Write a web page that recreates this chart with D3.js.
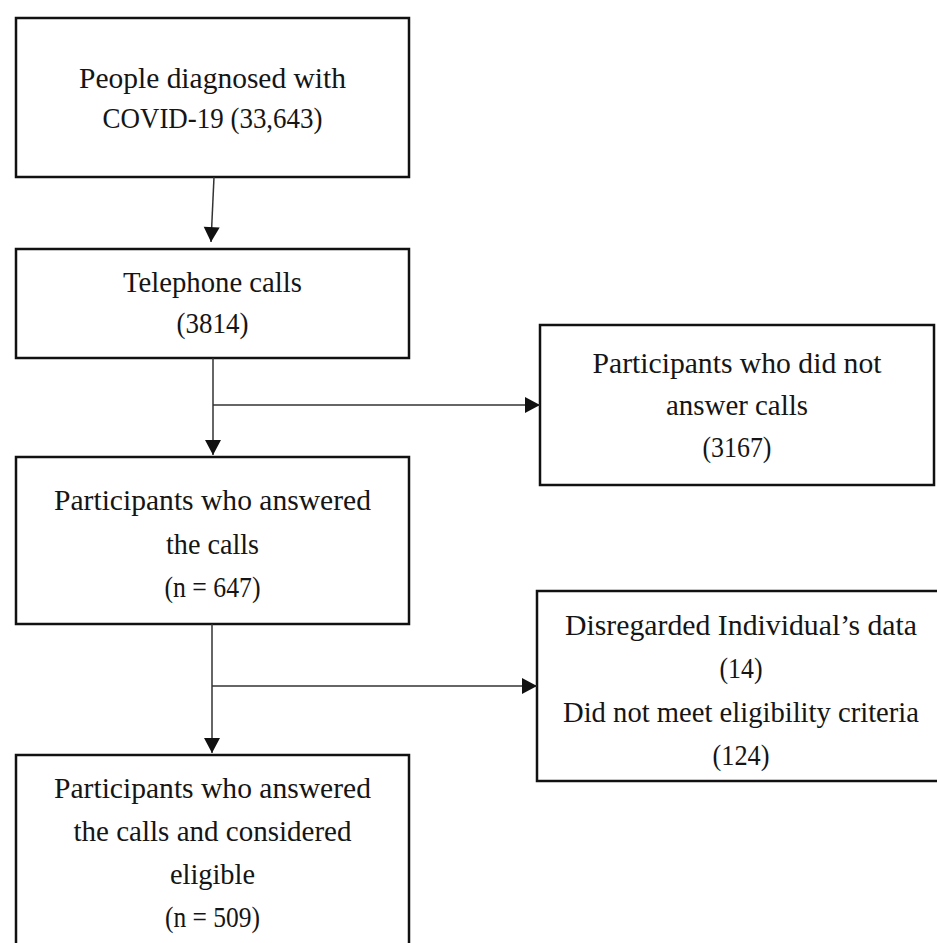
<!DOCTYPE html>
<html lang="en">
<head>
    <meta charset="UTF-8">
    <title>Flowchart</title>
    <script src="https://cdn.jsdelivr.net/npm/d3@7"></script>
    <style type="text/css">
        body { margin: 0; background: white; }
    </style>
</head>
<body>
<script>

// flow text (one list per box, one entry per line)
var mainLines = [
    ["People diagnosed with", "COVID-19 (33,643)"],
    ["Telephone calls", "(3814)"],
    ["Participants who answered", "the calls", "(n = 647)"],
    ["Participants who answered", "the calls and considered", "eligible", "(n = 509)"]
];
var sideLines = [
    ["Participants who did not", "answer calls", "(3167)"],
    ["Disregarded Individual\u2019s data", "(14)", "Did not meet eligibility criteria", "(124)"]
];

// layout
var mainX = [16, 409];
var mainY = [[18, 177], [249, 358], [457, 624], [755, 970]];
var mainBase = [[88, 128], [292, 333], [510, 597], [798, 927]];
var mainWidths = [[267, 220], [179, 72], [317, 93, 96], [317, 278, 85, 95]];

var sideX = [[540, 934], [537, 945]];
var sideY = [[325, 485], [591, 781]];
var sideBase = [[373, 457], [635, 765]];
var sideWidths = [[289, 142, 69], [352, 43, 356, 57]];

var svg = d3.select("body").append("svg").attr("width", 937).attr("height", 943);

svg.append("defs").append("marker")
    .attr("id", "head")
    .attr("markerUnits", "userSpaceOnUse")
    .attr("markerWidth", 17).attr("markerHeight", 17)
    .attr("viewBox", "0 -8.5 15 17")
    .attr("refX", 15).attr("refY", 0)
    .attr("orient", "auto")
  .append("path")
    .attr("d", "M0,-8L15,0L0,8Z")
    .attr("fill", "#111");

function drawBox(x0, x1, y0, y1, lines, base, widths) {
    svg.append("rect")
        .attr("x", x0).attr("y", y0)
        .attr("width", x1 - x0).attr("height", y1 - y0)
        .attr("fill", "white").attr("stroke", "#111").attr("stroke-width", 2.5);

    var y = d3.scaleLinear().domain([0, Math.max(1, lines.length - 1)]).range(base);
    var cx = (x0 + x1) / 2;

    svg.selectAll(null).data(lines).enter().append("text")
        .attr("x", cx)
        .attr("y", function(d, i){ return y(i); })
        .attr("text-anchor", "middle")
        .attr("font-family", "'Liberation Serif', 'Times New Roman', serif")
        .attr("font-size", 29)
        .attr("fill", "#151515")
        .attr("textLength", function(d, i){ return widths[i]; })
        .attr("lengthAdjust", "spacingAndGlyphs")
        .text(function(d){ return d; });
}

mainLines.forEach(function(lines, i){
    drawBox(mainX[0], mainX[1], mainY[i][0], mainY[i][1], lines, mainBase[i], mainWidths[i]);
});
sideLines.forEach(function(lines, i){
    drawBox(sideX[i][0], sideX[i][1], sideY[i][0], sideY[i][1], lines, sideBase[i], sideWidths[i]);
});

// connectors
var arrows = [
    [[214, 177], [211, 242]],
    [[213, 358], [213, 455]],
    [[213, 405], [540, 405]],
    [[212, 624], [212, 753]],
    [[212, 686], [537, 686]]
];

svg.selectAll("line.arrow").data(arrows).enter().append("line")
    .attr("class", "arrow")
    .attr("x1", function(d){ return d[0][0]; })
    .attr("y1", function(d){ return d[0][1]; })
    .attr("x2", function(d){ return d[1][0]; })
    .attr("y2", function(d){ return d[1][1]; })
    .attr("stroke", "#333").attr("stroke-width", 1.5)
    .attr("marker-end", "url(#head)");

</script>
</body>
</html>
